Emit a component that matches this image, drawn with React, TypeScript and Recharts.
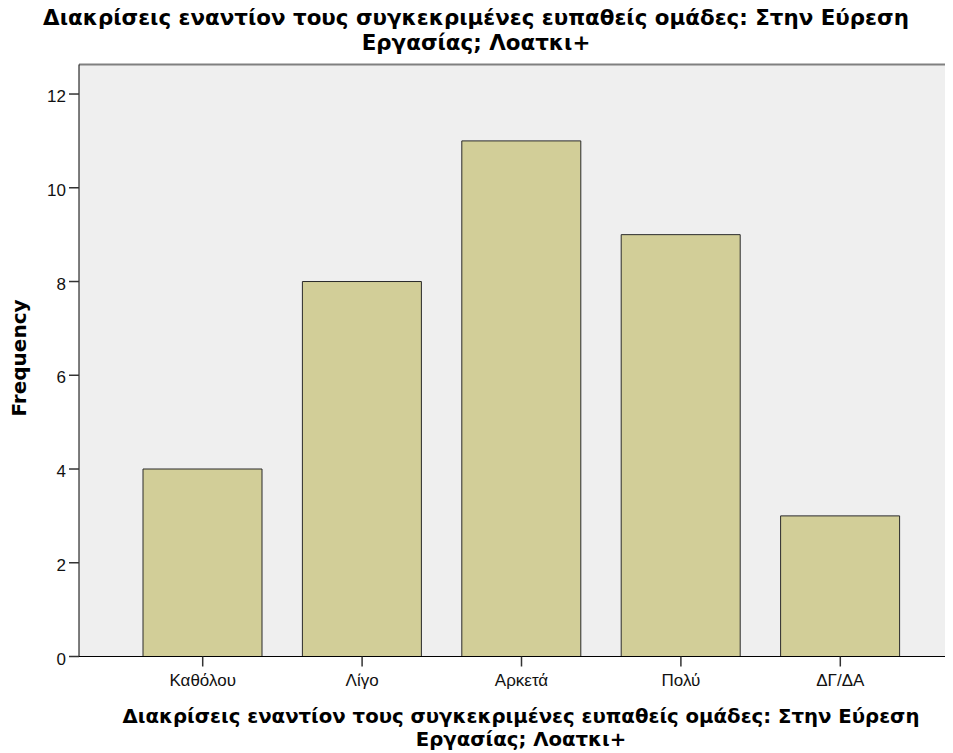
import { BarChart, Bar, XAxis, YAxis, CartesianGrid, ReferenceLine } from "recharts"

const categories = ["Καθόλου", "Λίγο", "Αρκετά", "Πολύ", "ΔΓ/ΔΑ"]
const frequencies = [4, 8, 11, 9, 3]
const yTicks = [0, 2, 4, 6, 8, 10, 12]

const titleLines = ["Διακρίσεις εναντίον τους συγκεκριμένες ευπαθείς ομάδες: Στην Εύρεση", "Εργασίας; Λοατκι+"]
const yLabel = "Frequency"

const data = categories.map((name, i) => ({ name, value: frequencies[i] }))

const tickFont = "'Liberation Sans', Arial, sans-serif"
const labelFont = "'DejaVu Sans', Verdana, sans-serif"
const yMax = 12.63

// y tick labels sit a little below their tick marks in the reference
function YTick(props: any) {
  const { x, y, payload } = props
  return (
    <text x={x} y={y + 8} textAnchor="end" fontSize={17} fill="#111" fontFamily={tickFont}>
      {payload.value}
    </text>
  )
}

export default function App() {
  return (
    <div style={{ position: "relative", width: 945, height: 745 }}>
      <div
        style={{
          position: "absolute",
          top: -3,
          left: 468,
          transform: "translateX(-50%)",
          whiteSpace: "nowrap",
          textAlign: "center",
          fontFamily: labelFont,
          fontWeight: "bold",
          fontSize: 21.4,
          lineHeight: "normal",
        }}
      >
        {titleLines.map((l) => (
          <div key={l}>{l}</div>
        ))}
      </div>
      <BarChart
        width={945}
        height={745}
        data={data}
        margin={{ top: 56.5, right: 0, bottom: 66.5, left: 11 }}
      >
        <CartesianGrid fill="#EFEFEF" horizontal={false} vertical={false} />
        <XAxis
          dataKey="name"
          height={30}
          padding={{ left: 44, right: 33 }}
          axisLine={{ stroke: "#000" }}
          tickLine={{ stroke: "#333", strokeWidth: 1.5 }}
          tickSize={10}
          tickMargin={7}
          tick={{ fontSize: 17, fill: "#111", fontFamily: tickFont }}
        />
        <YAxis
          width={60}
          domain={[0, yMax]}
          ticks={yTicks}
          axisLine={{ stroke: "#000" }}
          tickLine={{ stroke: "#333", strokeWidth: 1.5 }}
          tickSize={10}
          tickMargin={3}
          tick={<YTick />}
        />
        <ReferenceLine y={yMax} stroke="#808080" strokeWidth={2} />
        <Bar dataKey="value" fill="#D2CE98" stroke="#2a2a2a" strokeWidth={1} barSize={119} isAnimationActive={false} />
      </BarChart>
      <div
        style={{
          position: "absolute",
          left: 11,
          top: 350,
          transform: "translate(-50%, -50%) rotate(-90deg)",
          whiteSpace: "nowrap",
          fontFamily: labelFont,
          fontWeight: "bold",
          fontSize: 20,
          lineHeight: "normal",
        }}
      >
        {yLabel}
      </div>
      <div
        style={{
          position: "absolute",
          top: 696.7,
          left: 513,
          transform: "translateX(-50%)",
          whiteSpace: "nowrap",
          textAlign: "center",
          fontFamily: labelFont,
          fontWeight: "bold",
          fontSize: 19.7,
          lineHeight: "normal",
        }}
      >
        {titleLines.map((l) => (
          <div key={l}>{l}</div>
        ))}
      </div>
    </div>
  )
}
